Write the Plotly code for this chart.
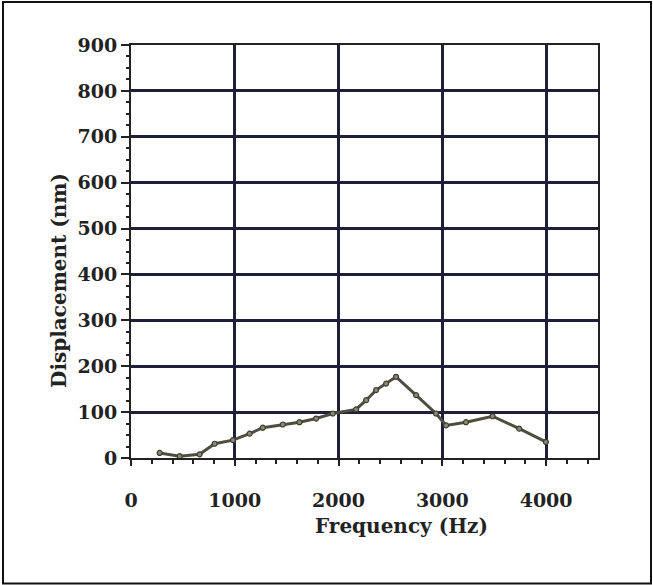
import plotly.graph_objects as go

# Data
frequency_hz = [276, 469, 661, 806, 982, 1143, 1270, 1463, 1623, 1784, 1944,
                2169, 2266, 2362, 2458, 2554, 2747, 2939, 3036, 3228, 3484,
                3741, 3998]
displacement_nm = [11, 4, 8, 31, 39, 53, 66, 73, 78, 86, 97,
                   106, 126, 148, 162, 177, 137, 97, 71, 78, 91,
                   64, 35]

x_ticks = [0, 1000, 2000, 3000, 4000]
y_ticks = [0, 100, 200, 300, 400, 500, 600, 700, 800, 900]

FONT = "DejaVu Serif"
INK = "#222222"
GRID = "#1f1f3a"

fig = go.Figure()
fig.add_trace(go.Scatter(
    x=frequency_hz, y=displacement_nm, mode="lines+markers",
    line=dict(color="#4d4d40", width=3),
    marker=dict(symbol="circle", size=5, color="#8a8a70",
                line=dict(color="#3d3d33", width=1.2)),
    showlegend=False, hoverinfo="x+y",
))

fig.update_xaxes(
    range=[0, 4500], tickvals=x_ticks, ticktext=[str(v) for v in x_ticks],
    showgrid=True, gridcolor=GRID, gridwidth=3,
    showline=True, linecolor=INK, linewidth=2, mirror=True,
    ticks="outside", ticklen=6, tickwidth=2, tickcolor=INK,
    ticklabelstandoff=18,
    minor=dict(dtick=200, ticks="outside", ticklen=4, tickwidth=1.5,
               tickcolor=INK, showgrid=False),
    tickfont=dict(family=FONT, size=19, color=INK, weight="bold"),
    zeroline=False,
)
fig.update_yaxes(
    range=[0, 900], tickvals=y_ticks, ticktext=[str(v) for v in y_ticks],
    showgrid=True, gridcolor=GRID, gridwidth=3,
    showline=True, linecolor=INK, linewidth=2, mirror=True,
    ticks="outside", ticklen=8, tickwidth=2, tickcolor=INK,
    minor=dict(dtick=25, ticks="outside", ticklen=3, tickwidth=1.5,
               tickcolor=INK, showgrid=False),
    tickfont=dict(family=FONT, size=19, color=INK, weight="bold"),
    zeroline=False,
)

fig.add_annotation(
    text="Frequency (Hz)", xref="paper", yref="paper",
    x=0.58, y=-0.165, xanchor="center", yanchor="middle", showarrow=False,
    font=dict(family=FONT, size=20, color=INK, weight="bold"),
)
fig.add_annotation(
    text="Displacement (nm)", xref="paper", yref="paper", textangle=-90,
    x=-0.153, y=0.43, xanchor="center", yanchor="middle", showarrow=False,
    font=dict(family=FONT, size=20, color=INK, weight="bold"),
)

# outer frame around the whole picture
fig.add_shape(type="rect", xref="paper", yref="paper",
              x0=-0.2741, x1=1.1135, y0=-0.3036, y1=1.1042,
              line=dict(color="#111111", width=2), fillcolor="rgba(0,0,0,0)",
              layer="above")

fig.update_layout(
    width=653, height=585,
    margin=dict(l=131, r=55, t=45, b=127),
    paper_bgcolor="white", plot_bgcolor="white",
    font=dict(family=FONT, color=INK),
)

fig.write_html("out.html")
